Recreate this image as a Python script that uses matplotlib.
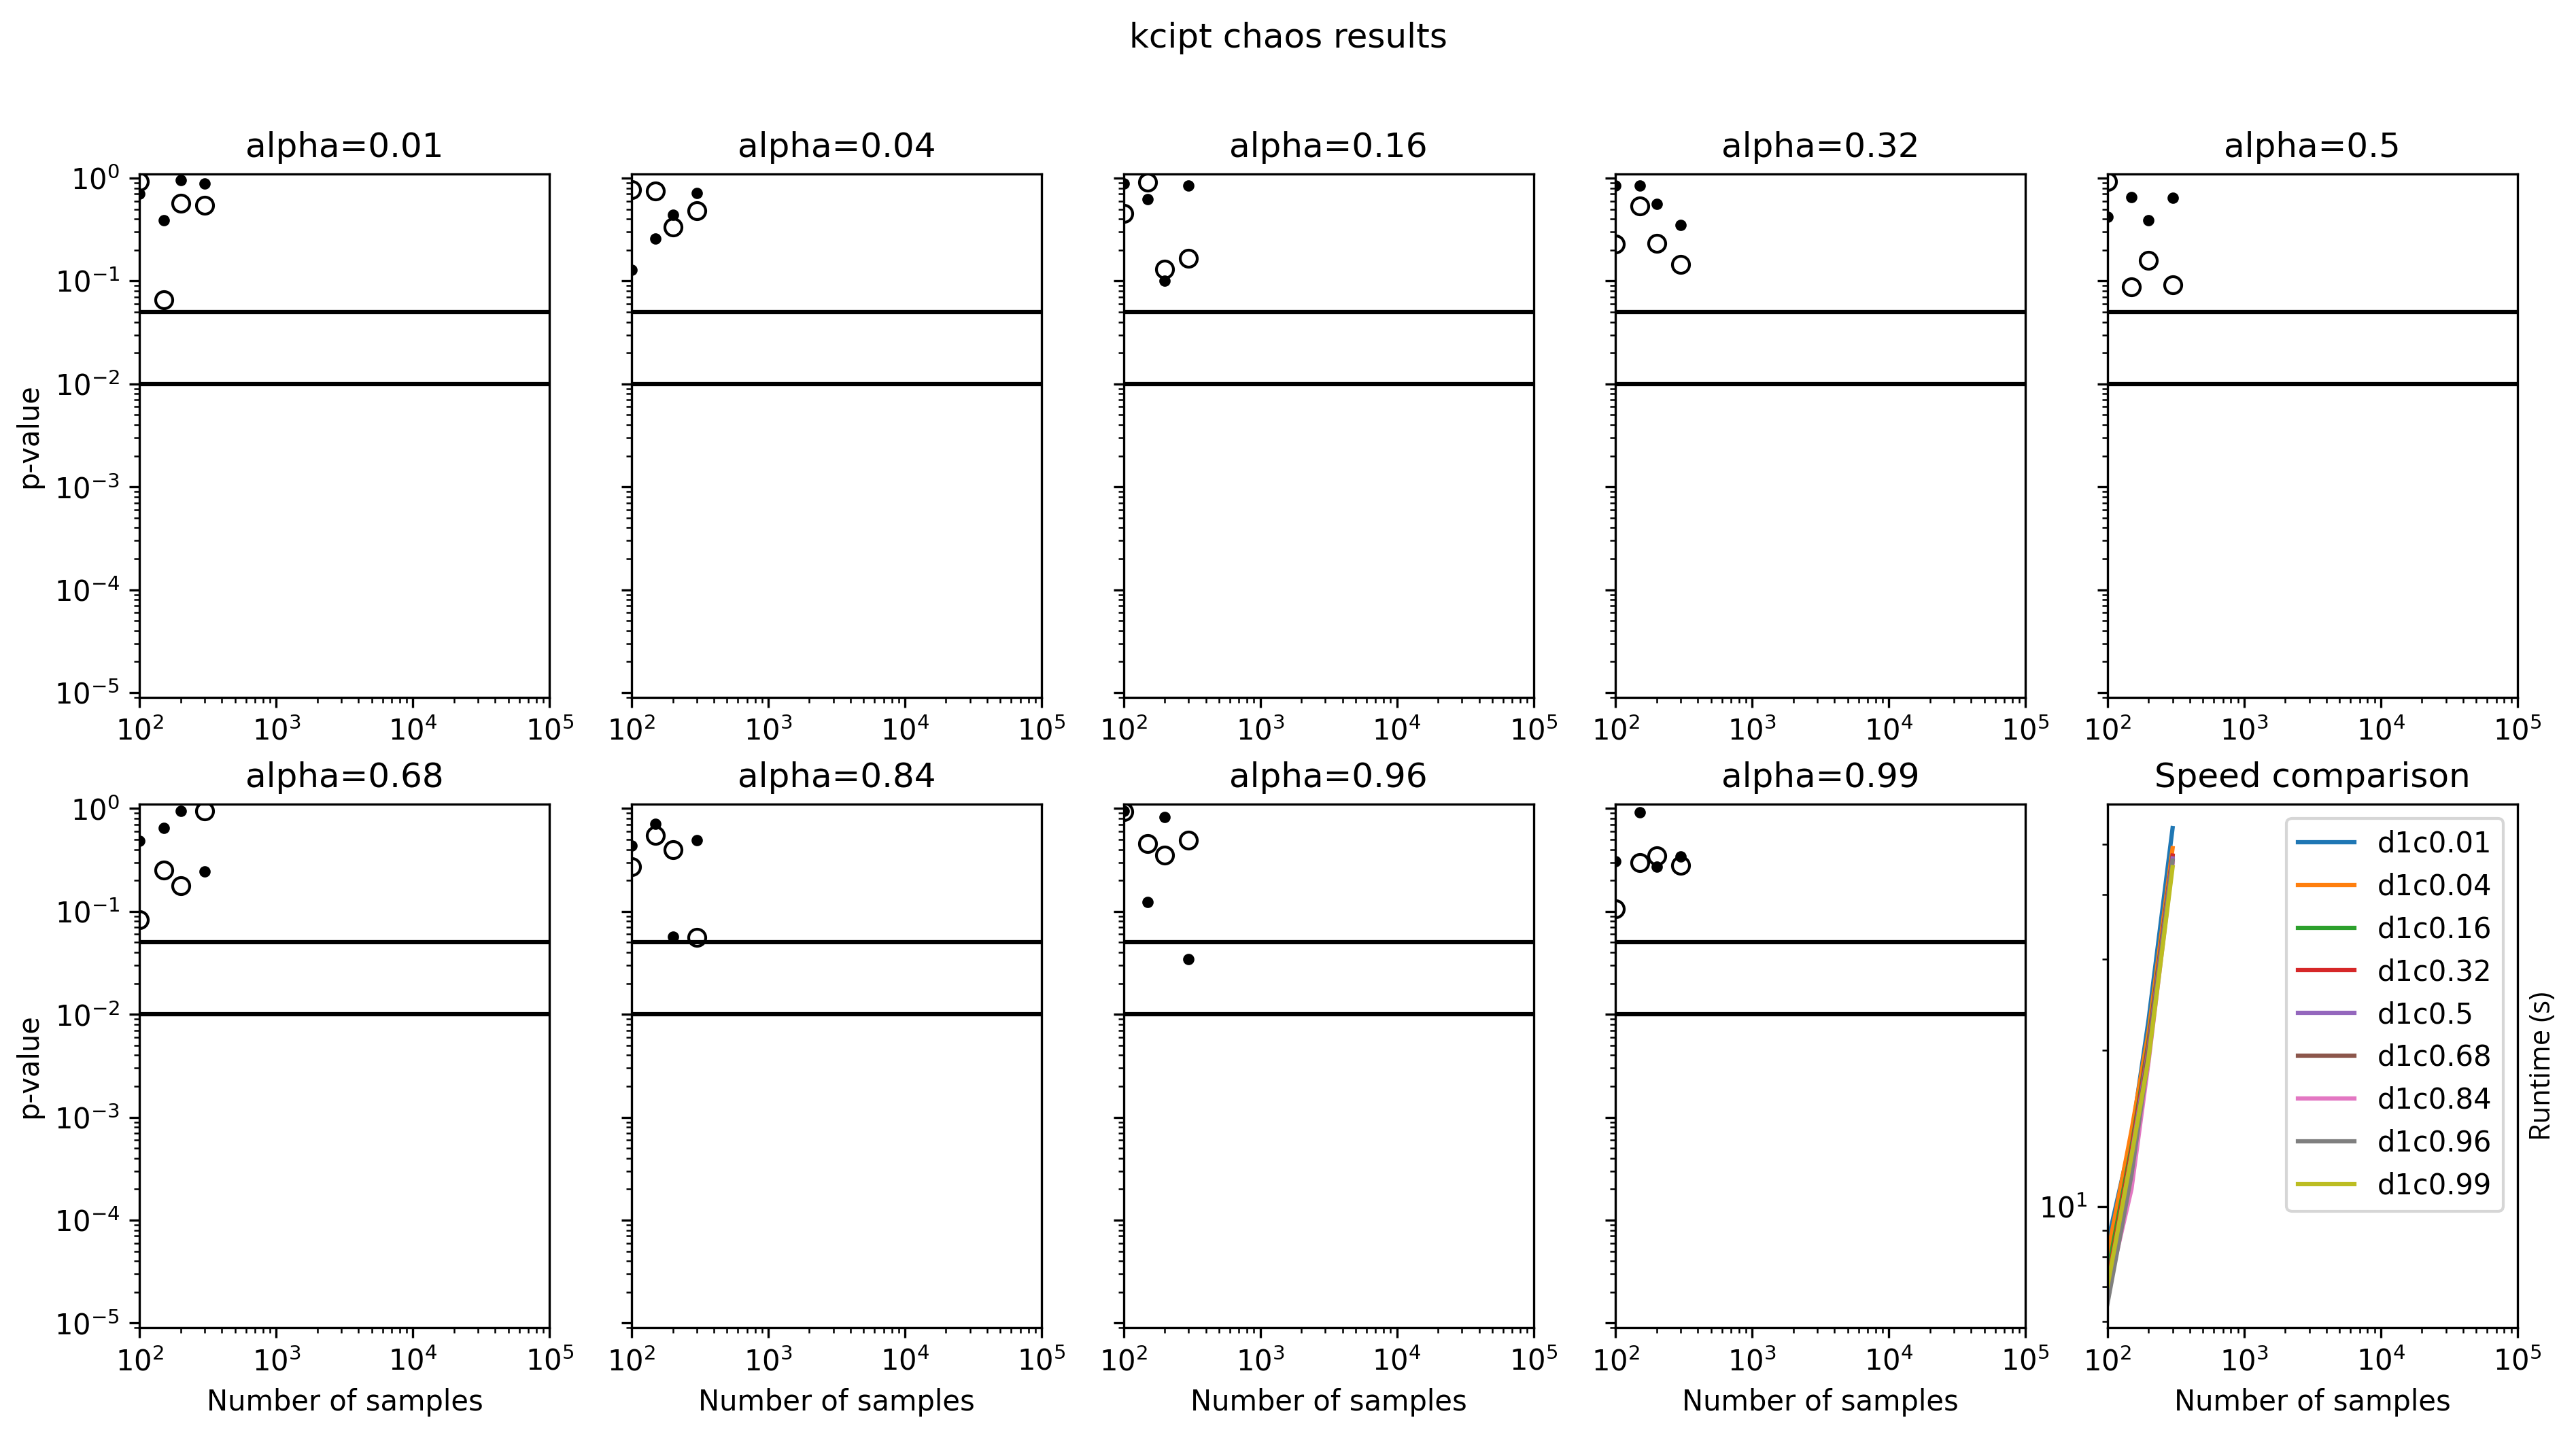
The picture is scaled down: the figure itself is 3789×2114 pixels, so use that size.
import matplotlib
matplotlib.use("Agg")
import matplotlib.pyplot as plt
import numpy as np

n_samples = [100, 150, 200, 300]
alphas = ["0.01", "0.04", "0.16", "0.32", "0.5", "0.68", "0.84", "0.96", "0.99"]

# p-values, small filled dots
pval_dots = [
    [0.70, 0.39, 0.95, 0.88],
    [0.129, 0.26, 0.44, 0.71],
    [0.88, 0.625, 0.10, 0.846],
    [0.846, 0.85, 0.565, 0.351],
    [0.423, 0.657, 0.388, 0.641],
    [0.485, 0.644, 0.94, 0.245],
    [0.438, 0.71, 0.0565, 0.49],
    [0.94, 0.124, 0.82, 0.0344],
    [0.305, 0.913, 0.271, 0.342],
]
# p-values, open circles
pval_rings = [
    [0.92, 0.066, 0.57, 0.545],
    [0.77, 0.75, 0.333, 0.483],
    [0.456, 0.91, 0.131, 0.167],
    [0.227, 0.537, 0.233, 0.145],
    [0.93, 0.088, 0.158, 0.092],
    [0.083, 0.252, 0.177, 0.95],
    [0.271, 0.545, 0.40, 0.0559],
    [0.93, 0.456, 0.351, 0.492],
    [0.106, 0.297, 0.345, 0.282],
]
thresholds = [0.05, 0.01]

# runtime in seconds for each setting
runtimes = [
    [8.48, 13.6, 22.9, 53.8],
    [8.03, 14.0, 21.7, 49.2],
    [7.4, 13.0, 20.8, 47.5],
    [7.1, 12.8, 20.5, 47.6],
    [6.9, 12.5, 20.2, 47.0],
    [6.7, 12.2, 19.9, 46.5],
    [6.8, 10.8, 19.0, 46.0],
    [6.48, 11.5, 19.5, 46.5],
    [7.0, 12.5, 19.3, 45.2],
]
run_labels = ["d1c" + a for a in alphas]

fig, axes = plt.subplots(2, 5, figsize=(12.633, 7.047), dpi=300)
fig.subplots_adjust(left=0.0542, right=0.977, top=0.879, bottom=0.076,
                    wspace=0.2, hspace=0.204)
fig.suptitle("kcipt chaos results", y=0.985)

for i, a in enumerate(alphas):
    ax = axes.flat[i]
    ax.plot(n_samples, pval_dots[i], "k.")
    ax.plot(n_samples, pval_rings[i], "o", mfc="none", mec="k", ms=6, mew=1)
    for t in thresholds:
        ax.axhline(t, color="k", lw=1.5)
    ax.set_xscale("log")
    ax.set_yscale("log")
    ax.set_xlim(1e2, 1e5)
    ax.set_ylim(0.9e-5, 1.1)
    ax.set_title("alpha=" + a)
    if i % 5 == 0:
        ax.set_ylabel("p-value")
    else:
        ax.tick_params(axis="y", labelleft=False, which="both")
    if i >= 5:
        ax.set_xlabel("Number of samples")

ax = axes.flat[9]
for lab, rt in zip(run_labels, runtimes):
    ax.plot(n_samples, rt, label=lab)
ax.set_xscale("log")
ax.set_yscale("log")
ax.set_xlim(1e2, 1e5)
ax.set_title("Speed comparison")
ax.set_xlabel("Number of samples")
ax.yaxis.set_label_position("right")
ax.set_ylabel("Runtime (s)", family=["Open Sans", "DejaVu Sans"])
ax.legend(loc="upper right")

fig.savefig("out.png", dpi=300)
